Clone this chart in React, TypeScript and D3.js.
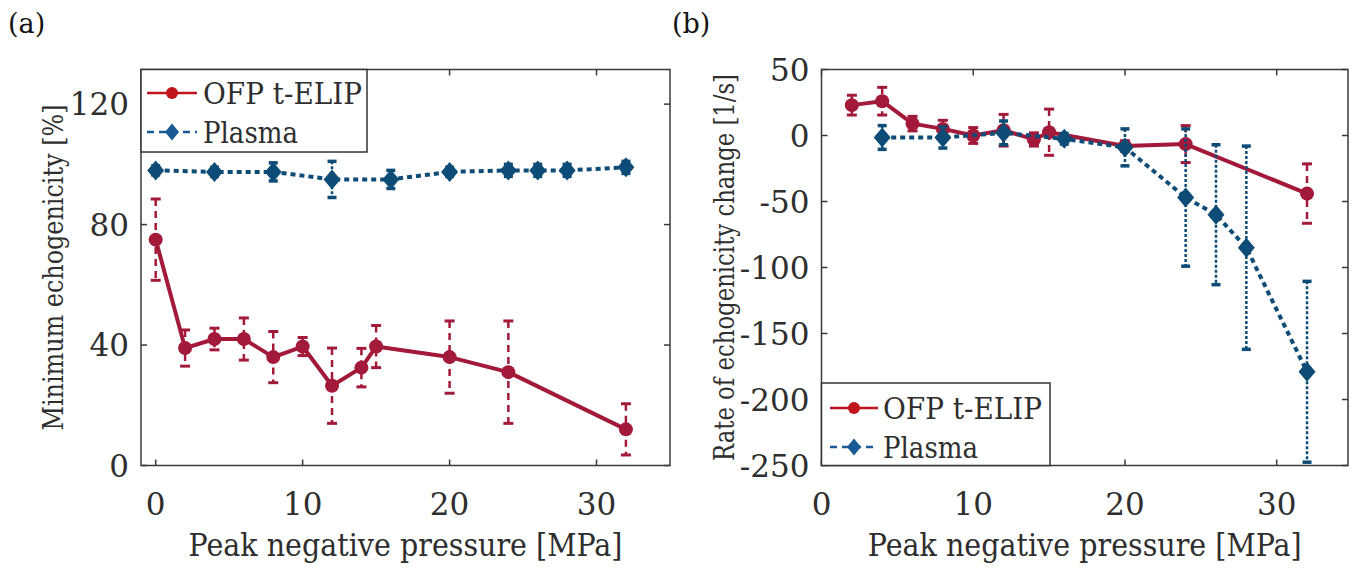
import React from "react";
import * as d3 from "d3";

// ---------- data ----------
const leftXOFP = [0, 2, 4, 6, 8, 10, 12, 14, 15, 20, 24, 32];
const leftYOFP = [75, 39, 42, 42, 36, 39.5, 26.5, 32.5, 39.5, 36, 31, 12];
const leftErrOFP = [13.5, 6, 3.6, 7, 8.5, 3, 12.5, 6.4, 7, 12, 17, 8.5];

const leftXPlasma = [0, 4, 8, 12, 16, 20, 24, 26, 28, 32];
const leftYPlasma = [98, 97.5, 97.5, 95, 95, 97.5, 98, 98, 98, 99];
const leftErrPlasma = [1.5, 1.5, 3, 6, 3, 1.5, 2, 2, 2, 2];

const rightXOFP = [2, 4, 6, 8, 10, 12, 14, 15, 20, 24, 32];
const rightYOFP = [23, 26, 9, 5, 0, 4, -3, 2.5, -8, -6.5, -44];
const rightErrOFP = [7.5, 10.5, 5.5, 6.5, 6, 12, 5, 17.5, 4, 14, 22.5];

const rightXPlasma = [4, 8, 12, 16, 20, 24, 26, 28, 32];
const rightYPlasma = [-1.5, -1.5, 2, -2.5, -9, -47, -60, -85, -179];
const rightErrPlasma = [9, 8, 9, 4, 14, 52, 53, 77, 68.5];

const leftXTicks = [0, 10, 20, 30];
const leftYTicks = [0, 40, 80, 120];
const rightXTicks = [0, 10, 20, 30];
const rightYTicks = [-250, -200, -150, -100, -50, 0, 50];

const seriesNames = ["OFP t-ELIP", "Plasma"];
const xLabel = "Peak negative pressure [MPa]";
const leftYLabel = "Minimum echogenicity [%]";
const rightYLabel = "Rate of echogenicity change [1/s]";

// ---------- style ----------
const FONT = '"DejaVu Serif", "Liberation Serif", serif';
const RED = "#A3193A";
const BLUE = "#0E4C78";
const LEG_RED = "#C0141C";
const LEG_BLUE = "#1A5A94";
const AXIS = "#3a3a3a";
const TEXT = "#2e2e2e";

type Series = { x: number[]; y: number[]; e: number[] };

function zip(s: Series) {
  return s.x.map((x, i) => ({ x, y: s.y[i], e: s.e[i] }));
}

function Diamond({ cx, cy, w, h, fill }: any) {
  return (
    <path
      d={`M${cx},${cy - h}L${cx + w},${cy}L${cx},${cy + h}L${cx - w},${cy}Z`}
      fill={fill}
    />
  );
}

function Txt(props: any) {
  const { size, children, len, ...rest } = props;
  const extra: any = len ? { textLength: len, lengthAdjust: "spacingAndGlyphs" } : {};
  return (
    <text {...rest} {...extra} style={{ fontFamily: FONT, fontSize: size + "px" }} fill={props.fill || TEXT}>
      {children}
    </text>
  );
}

function Panel(props: {
  xDomain: [number, number];
  xRange: [number, number];
  yDomain: [number, number];
  yRange: [number, number];
  xTicks: number[];
  yTicks: number[];
  red: Series;
  blue: Series;
  yLabel: string;
  yLabelX: number;
  yLabelLen: number;
  legend: { x0: number; y0: number; x1: number; y1: number; lineX0: number; lineX1: number; textX: number; row1: number; row2: number };
  tag: string;
  tagX: number;
}) {
  const x = d3.scaleLinear().domain(props.xDomain).range(props.xRange);
  const y = d3.scaleLinear().domain(props.yDomain).range(props.yRange);
  const [L, R] = props.xRange;
  const [B, T] = props.yRange;
  const line = d3
    .line<{ x: number; y: number }>()
    .x((d) => x(d.x))
    .y((d) => y(d.y));
  const red = zip(props.red);
  const blue = zip(props.blue);
  const tickLen = 6;
  const lg = props.legend;
  const cx = (L + R) / 2;
  const cy = (B + T) / 2;
  return (
    <g>
      <rect x={L} y={T} width={R - L} height={B - T} fill="white" stroke={AXIS} strokeWidth={1.5} />
      {props.xTicks.map((t) => (
        <g key={"xt" + t}>
          <line x1={x(t)} x2={x(t)} y1={B} y2={B - tickLen} stroke={AXIS} strokeWidth={1.5} />
          <line x1={x(t)} x2={x(t)} y1={T} y2={T + tickLen} stroke={AXIS} strokeWidth={1.5} />
          <Txt x={x(t)} y={515} textAnchor="middle" size={31}>
            {t}
          </Txt>
        </g>
      ))}
      {props.yTicks.map((t) => (
        <g key={"yt" + t}>
          <line x1={L} x2={L + tickLen} y1={y(t)} y2={y(t)} stroke={AXIS} strokeWidth={1.5} />
          <line x1={R} x2={R - tickLen} y1={y(t)} y2={y(t)} stroke={AXIS} strokeWidth={1.5} />
          <Txt x={L - 12} y={y(t)} dy="0.36em" textAnchor="end" size={31}>
            {t}
          </Txt>
        </g>
      ))}
      <path d={line(red) || ""} fill="none" stroke={RED} strokeWidth={4} strokeLinejoin="round" />
      {red.map((d, i) => (
        <g key={"re" + i}>
          <line x1={x(d.x)} x2={x(d.x)} y1={y(d.y + d.e)} y2={y(d.y - d.e)} stroke={RED} strokeWidth={2.5} strokeDasharray="7,5" />
          <line x1={x(d.x) - 5} x2={x(d.x) + 5} y1={y(d.y + d.e)} y2={y(d.y + d.e)} stroke={RED} strokeWidth={3} />
          <line x1={x(d.x) - 5} x2={x(d.x) + 5} y1={y(d.y - d.e)} y2={y(d.y - d.e)} stroke={RED} strokeWidth={3} />
          <circle cx={x(d.x)} cy={y(d.y)} r={7} fill={RED} />
        </g>
      ))}
      <path d={line(blue) || ""} fill="none" stroke={BLUE} strokeWidth={4} strokeDasharray="5,4" />
      {blue.map((d, i) => (
        <g key={"be" + i}>
          <line x1={x(d.x)} x2={x(d.x)} y1={y(d.y + d.e)} y2={y(d.y - d.e)} stroke={BLUE} strokeWidth={2.5} strokeDasharray="3,2" />
          <line x1={x(d.x) - 4.5} x2={x(d.x) + 4.5} y1={y(d.y + d.e)} y2={y(d.y + d.e)} stroke={BLUE} strokeWidth={3.5} />
          <line x1={x(d.x) - 4.5} x2={x(d.x) + 4.5} y1={y(d.y - d.e)} y2={y(d.y - d.e)} stroke={BLUE} strokeWidth={3.5} />
          <Diamond cx={x(d.x)} cy={y(d.y)} w={8.5} h={10} fill={BLUE} />
        </g>
      ))}
      <rect x={lg.x0} y={lg.y0} width={lg.x1 - lg.x0} height={lg.y1 - lg.y0} fill="white" stroke="#333" strokeWidth={1.5} />
      <line x1={lg.lineX0} x2={lg.lineX1} y1={lg.row1} y2={lg.row1} stroke={LEG_RED} strokeWidth={2.5} />
      <circle cx={(lg.lineX0 + lg.lineX1) / 2} cy={lg.row1} r={6} fill={LEG_RED} />
      <Txt x={lg.textX} y={lg.row1} dy="0.36em" size={30} len={159}>
        {seriesNames[0]}
      </Txt>
      <line x1={lg.lineX0} x2={lg.lineX1} y1={lg.row2} y2={lg.row2} stroke={LEG_BLUE} strokeWidth={2.5} strokeDasharray="7,5" />
      <Diamond cx={(lg.lineX0 + lg.lineX1) / 2} cy={lg.row2} w={7} h={8.5} fill={LEG_BLUE} />
      <Txt x={lg.textX} y={lg.row2} dy="0.36em" size={30} len={95}>
        {seriesNames[1]}
      </Txt>
      <Txt x={cx - 217} y={556} size={32} len={434}>
        {xLabel}
      </Txt>
      <g transform={`translate(${props.yLabelX},${cy}) rotate(-90)`}>
        <Txt x={-props.yLabelLen / 2} y={0} size={28} len={props.yLabelLen}>
          {props.yLabel}
        </Txt>
      </g>
      <Txt x={props.tagX} y={33} size={27} fill="#111">
        {props.tag}
      </Txt>
    </g>
  );
}

export default function App() {
  return (
    <svg width={1358} height={568} style={{ position: "absolute", left: 0, top: 0, background: "white" }}>
      <rect width={1358} height={568} fill="white" />
      <Panel
        xDomain={[-1, 35]}
        xRange={[141, 670]}
        yDomain={[0, 131.5]}
        yRange={[465.5, 69.5]}
        xTicks={leftXTicks}
        yTicks={leftYTicks}
        red={{ x: leftXOFP, y: leftYOFP, e: leftErrOFP }}
        blue={{ x: leftXPlasma, y: leftYPlasma, e: leftErrPlasma }}
        yLabel={leftYLabel}
        yLabelX={63}
        yLabelLen={326}
        legend={{ x0: 141, y0: 69.5, x1: 367, y1: 152, lineX0: 147, lineX1: 197, textX: 203, row1: 93, row2: 132 }}
        tag="(a)"
        tagX={8}
      />
      <Panel
        xDomain={[0, 34.7]}
        xRange={[821.5, 1348]}
        yDomain={[-250, 50]}
        yRange={[465.5, 69.5]}
        xTicks={rightXTicks}
        yTicks={rightYTicks}
        red={{ x: rightXOFP, y: rightYOFP, e: rightErrOFP }}
        blue={{ x: rightXPlasma, y: rightYPlasma, e: rightErrPlasma }}
        yLabel={rightYLabel}
        yLabelX={734}
        yLabelLen={387}
        legend={{ x0: 821.5, y0: 383, x1: 1050, y1: 465.5, lineX0: 830, lineX1: 878, textX: 883, row1: 408, row2: 447 }}
        tag="(b)"
        tagX={672}
      />
    </svg>
  );
}
